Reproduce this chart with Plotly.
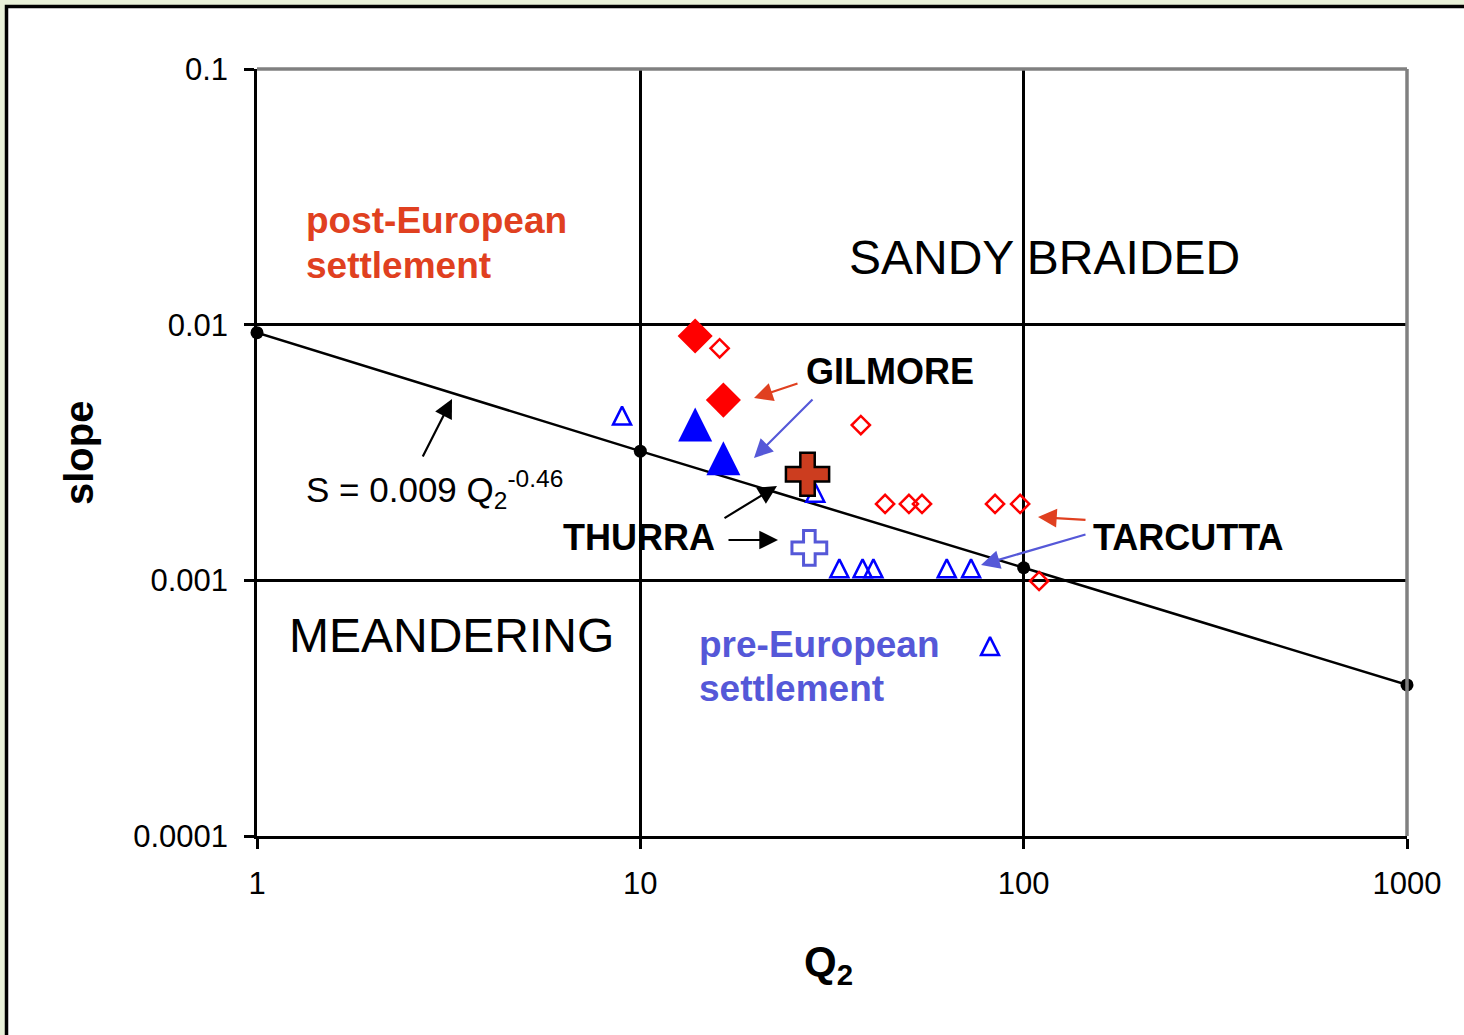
import plotly.graph_objects as go

# ---------------- data ----------------
trend_q = [1, 10, 100, 1000]
trend_s = [0.0093, 0.0032, 0.00112, 0.00039]

post_big_q = [13.9, 16.47]
post_big_s = [0.00903, 0.00507]

post_open_q = [16.1, 37.6, 43.5, 50.2, 54.3, 84.2, 97.9, 109.7]
post_open_s = [0.00808, 0.00405, 0.00199, 0.00199, 0.00199, 0.00199, 0.00199, 0.000994]

pre_big_q = [13.9, 16.47]
pre_big_s = [0.00407, 0.0030]

pre_open_q = [8.96, 28.6, 33.05, 38.0, 40.55, 63.0, 72.9, 81.7]
pre_open_s = [0.00441, 0.0022, 0.001114, 0.001114, 0.001114, 0.001114, 0.001114, 0.000553]

post_mean_q = [27.3]
post_mean_s = [0.0026]
pre_mean_q = [27.6]
pre_mean_s = [0.00134]

x_ticks = [1, 10, 100, 1000]
x_tick_text = ["1", "10", "100", "1000"]
y_ticks = [0.0001, 0.001, 0.01, 0.1]
y_tick_text = ["0.0001", "0.001", "0.01", "0.1"]

# ---------------- styling ----------------
FONT = "Liberation Sans, Arial, sans-serif"
RED_TXT = "#e04020"
BLUE_TXT = "#5558d8"
W, H = 1464, 1035
L, R, T, B = 257, 1407, 69, 836


def px(x):
    return (x - L) / (R - L)


def py(y):
    return (B - y) / (B - T)


fig = go.Figure()

# trend line
fig.add_trace(go.Scatter(x=trend_q, y=trend_s, mode="lines+markers",
                         line=dict(color="black", width=2.5),
                         marker=dict(color="black", size=13),
                         cliponaxis=False, showlegend=False))

# open red diamonds
fig.add_trace(go.Scatter(x=post_open_q, y=post_open_s, mode="markers",
                         marker=dict(symbol="diamond-open", size=14, color="#ff0000",
                                     line=dict(color="#ff0000", width=2.5)),
                         cliponaxis=False, showlegend=False))
# open blue triangles (equal height and base)
fig.add_trace(go.Scatter(x=pre_open_q, y=pre_open_s, mode="markers",
                         marker=dict(symbol="arrow-down-open", size=18, angle=180, standoff=9,
                                     color="#0000ff", line=dict(color="#0000ff", width=2.5)),
                         cliponaxis=False, showlegend=False))
# big filled red diamonds
fig.add_trace(go.Scatter(x=post_big_q, y=post_big_s, mode="markers",
                         marker=dict(symbol="diamond", size=27, color="#ff0000",
                                     line=dict(width=0)),
                         cliponaxis=False, showlegend=False))
# big filled blue triangles
fig.add_trace(go.Scatter(x=pre_big_q, y=pre_big_s, mode="markers",
                         marker=dict(symbol="arrow-down", size=34, angle=180, standoff=17,
                                     color="#0000ff", line=dict(width=0)),
                         cliponaxis=False, showlegend=False))
# brown cross
fig.add_trace(go.Scatter(x=post_mean_q, y=post_mean_s, mode="markers",
                         marker=dict(symbol="cross", size=36, color="#cc3d1f",
                                     line=dict(color="black", width=2.5)),
                         cliponaxis=False, showlegend=False))
# open blue cross
fig.add_trace(go.Scatter(x=pre_mean_q, y=pre_mean_s, mode="markers",
                         marker=dict(symbol="cross", size=29, color="white",
                                     line=dict(color=BLUE_TXT, width=3)),
                         cliponaxis=False, showlegend=False))

ann = []


def text(x, y, s, size, color="black", bold=False, xanchor="left"):
    ann.append(dict(x=px(x), y=py(y), xref="paper", yref="paper", text=s,
                    showarrow=False, xanchor=xanchor, yanchor="middle",
                    font=dict(family=FONT, size=size, color=color,
                              weight="bold" if bold else "normal")))


def arrow(tx, ty, hx, hy, color):
    ann.append(dict(x=px(hx), y=py(hy), xref="paper", yref="paper", text="",
                    showarrow=True, ax=tx - hx, ay=ty - hy, axref="pixel", ayref="pixel",
                    arrowhead=2, arrowsize=1.7, arrowwidth=2.2, arrowcolor=color,
                    standoff=0, startstandoff=0))


text(304, 220, "post-European", 37, RED_TXT, True)
text(304, 265, "settlement", 37, RED_TXT, True)
text(697, 644, "pre-European", 37, BLUE_TXT, True)
text(697, 688, "settlement", 37, BLUE_TXT, True)
text(1044, 257, "SANDY BRAIDED", 48, xanchor="center")
text(287, 635, "MEANDERING", 48)
text(804, 372, "GILMORE", 36, bold=True)
text(561, 537, "THURRA", 36, bold=True)
text(1091, 537, "TARCUTTA", 36, bold=True)
text(304, 489, "S = 0.009 Q<sub>2</sub><sup>-0.46</sup>", 35)
text(828, 964, "Q<sub>2</sub>", 42, bold=True, xanchor="center")
ann.append(dict(x=px(79), y=py(453), xref="paper", yref="paper", text="slope",
                showarrow=False, textangle=-90, xanchor="center", yanchor="middle",
                font=dict(family=FONT, size=40, color="black", weight="bold")))

arrow(422, 458, 452, 399, "black")
arrow(799, 383, 754, 398, RED_TXT)
arrow(814, 398, 754, 458, BLUE_TXT)
arrow(723, 519, 777, 486, "black")
arrow(727, 540, 778, 540, "black")
arrow(1087, 520, 1038, 517, RED_TXT)
arrow(1087, 534, 981, 565, BLUE_TXT)

shapes = [
    # white card with black frame on a light green page
    dict(type="rect", xref="paper", yref="paper", x0=px(6.5), x1=px(1520),
         y0=py(1090), y1=py(6.5), line=dict(color="black", width=3.5),
         fillcolor="white", layer="below"),
    # grey top and right borders of the plot area
    dict(type="line", xref="paper", yref="paper", x0=0, x1=1, y0=1, y1=1,
         line=dict(color="#808080", width=3.5), layer="above"),
    dict(type="line", xref="paper", yref="paper", x0=1, x1=1, y0=0, y1=1,
         line=dict(color="#808080", width=3.5), layer="above"),
]

fig.update_layout(
    width=W, height=H,
    margin=dict(l=L, r=W - R, t=T, b=H - B, pad=0),
    paper_bgcolor="#e8f0d8",
    plot_bgcolor="white",
    showlegend=False,
    annotations=ann,
    shapes=shapes,
    font=dict(family=FONT, color="black"),
)
fig.update_xaxes(type="log", range=[0, 3], tickvals=x_ticks, ticktext=x_tick_text,
                 showgrid=True, gridcolor="black", gridwidth=2.5,
                 showline=True, linecolor="black", linewidth=2.5,
                 ticks="outside", ticklen=10, tickwidth=2.5, tickcolor="black",
                 tickfont=dict(family=FONT, size=31, color="black"),
                 ticklabelstandoff=8, zeroline=False)
fig.update_yaxes(type="log", range=[-4, -1], tickvals=y_ticks, ticktext=y_tick_text,
                 showgrid=True, gridcolor="black", gridwidth=2.5,
                 showline=True, linecolor="black", linewidth=2.5,
                 ticks="outside", ticklen=10, tickwidth=2.5, tickcolor="black",
                 tickfont=dict(family=FONT, size=31, color="black"),
                 ticklabelstandoff=10, zeroline=False)

fig.write_html("out.html", config={"displayModeBar": False},
               post_script="document.body.style.margin='0';document.body.style.overflow='hidden';")
